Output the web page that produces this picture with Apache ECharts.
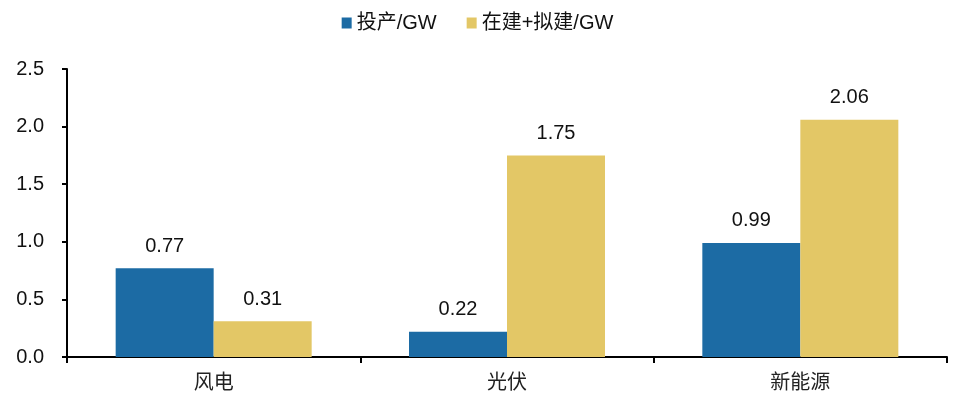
<!DOCTYPE html>
<html>
<head>
<meta charset="utf-8">
<script src="https://cdn.jsdelivr.net/npm/echarts@6/dist/echarts.min.js"></script>
<style>html,body{margin:0;padding:0;background:#fff;}#c{width:955px;height:398px;}</style>
</head>
<body>
<div id="c"></div>
<script>
const categories = ['风电', '光伏', '新能源'];
const seriesNames = ['投产/GW', '在建+拟建/GW'];
const produced = [0.77, 0.22, 0.99];
const building = [0.31, 1.75, 2.06];
const yTicks = [0, 0.5, 1.0, 1.5, 2.0, 2.5];

const chart = echarts.init(document.getElementById('c'));
const labelStyle = {
  show: true, position: 'top', distance: 12,
  fontFamily: 'Liberation Sans, Arial, sans-serif', fontSize: 20, color: '#111',
  formatter: p => p.value.toFixed(2)
};
chart.setOption({
  animation: false,
  textStyle: { fontFamily: 'Liberation Sans, Noto Sans CJK SC, sans-serif' },
  legend: {
    top: 8, left: 'center', itemWidth: 10, itemHeight: 11, itemGap: 30,
    icon: 'rect',
    textStyle: { fontSize: 20, color: '#111', fontFamily: 'Liberation Sans, Noto Sans CJK SC, sans-serif' },
    data: seriesNames
  },
  grid: { left: 67, right: 8, top: 69, bottom: 41 },
  xAxis: {
    type: 'category', data: categories,
    axisLine: { lineStyle: { color: '#000', width: 2 } },
    axisTick: { show: true, length: 6, lineStyle: { color: '#000', width: 2 } },
    axisLabel: { fontSize: 20, color: '#222', margin: 14, fontFamily: 'Noto Sans CJK SC, sans-serif' }
  },
  yAxis: {
    type: 'value', min: yTicks[0], max: yTicks[yTicks.length - 1], interval: 0.5,
    splitLine: { show: false },
    axisLine: { show: true, lineStyle: { color: '#000', width: 2 } },
    axisTick: { show: true, length: 5, lineStyle: { color: '#000', width: 2 } },
    axisLabel: { fontSize: 20, color: '#111', margin: 23, formatter: v => v.toFixed(1), fontFamily: 'Liberation Sans, Arial, sans-serif' }
  },
  series: [
    { name: seriesNames[0], type: 'bar', data: produced, barWidth: 98, barGap: '0%',
      itemStyle: { color: '#1c6ba4' }, label: labelStyle },
    { name: seriesNames[1], type: 'bar', data: building, barWidth: 98, barGap: '0%',
      itemStyle: { color: '#e3c766' }, label: labelStyle }
  ]
});
</script>
</body>
</html>
